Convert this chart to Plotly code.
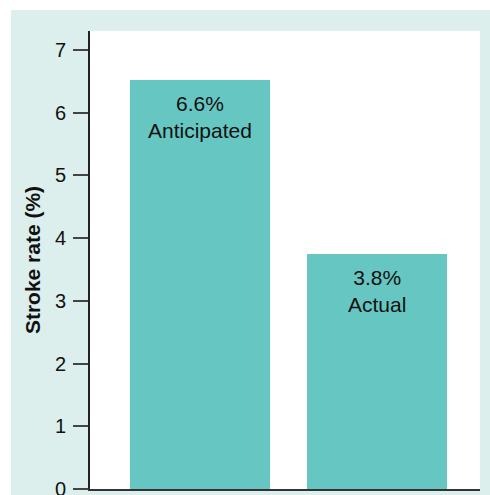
import plotly.graph_objects as go

categories = ["Anticipated", "Actual"]
values = [6.52, 3.75]
value_labels = ["6.6%", "3.8%"]
x_pos = [0, 1]
y_ticks = [0, 1, 2, 3, 4, 5, 6, 7]

bar_color = "#66c6c1"
frame_color = "#dcefed"
FONT = "Arial, Liberation Sans, Helvetica"

fig = go.Figure()
fig.add_trace(go.Bar(
    x=x_pos, y=values, width=0.79,
    marker=dict(color=bar_color, line=dict(width=0)),
    hoverinfo="skip",
))

for xp, v, lab, cat in zip(x_pos, values, value_labels, categories):
    fig.add_annotation(
        x=xp, y=v, xref="x", yref="y",
        text=f"{lab}<br>{cat}", showarrow=False,
        yanchor="top", yshift=-10,
        font=dict(family=FONT, size=21, color="#111"),
    )

# white strips outside the framed area (top and left)
fig.add_shape(type="rect", xref="paper", yref="paper",
              x0=-1, x1=2, y0=1.0459, y1=2, fillcolor="white", line=dict(width=0), layer="below")
fig.add_shape(type="rect", xref="paper", yref="paper",
              x0=-1, x1=-0.2026, y0=-1, y1=2, fillcolor="white", line=dict(width=0), layer="below")

fig.update_layout(
    width=490, height=495,
    margin=dict(l=90, r=10, t=31, b=6, autoexpand=False),
    paper_bgcolor=frame_color,
    plot_bgcolor="white",
    showlegend=False,
    bargap=0,
    font=dict(family=FONT, color="#111"),
)
fig.update_xaxes(
    range=[-0.621, 1.582], showticklabels=False, ticks="",
    showgrid=False, zeroline=False, automargin=False,
    showline=True, linecolor="#333", linewidth=2,
)
fig.update_yaxes(
    range=[0, 7.3], tickvals=y_ticks, ticks="outside", ticklen=15,
    tickcolor="#444", tickwidth=1.5, ticklabelstandoff=3,
    ticklabeloverflow="allow", automargin=False,
    tickfont=dict(family=FONT, size=20, color="#111"),
    showgrid=False, zeroline=False,
    showline=True, linecolor="#222", linewidth=2,
    title=dict(text="<b>Stroke rate (%)</b>", standoff=9,
               font=dict(family=FONT, size=21, color="#111")),
)

fig.write_html("out.html")
